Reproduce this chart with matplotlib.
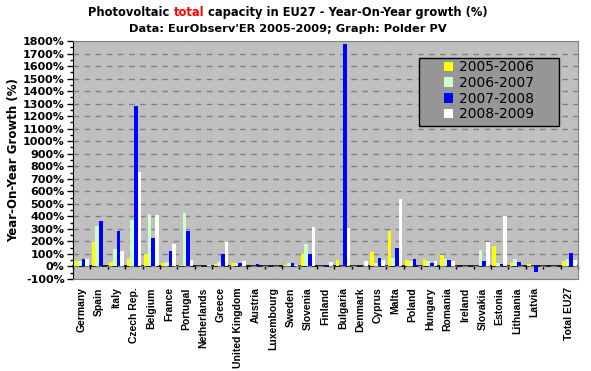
"""
Photovoltaic total capacity in EU27 - year-on-year growth per country.
"""

import matplotlib.pyplot as plt
import numpy as np
from matplotlib.patches import Rectangle
from matplotlib.ticker import MultipleLocator, FuncFormatter

countries = ["Germany", "Spain", "Italy", "Czech Rep.", "Belgium", "France",
             "Portugal", "Netherlands", "Greece", "United Kingdom", "Austria",
             "Luxembourg", "Sweden", "Slovenia", "Finland", "Bulgaria",
             "Denmark", "Cyprus", "Malta", "Poland", "Hungary", "Romania",
             "Ireland", "Slovakia", "Estonia", "Lithuania", "Latvia",
             "Total EU27"]

# growth in %
growth_0506 = [45, 195, 35, 59, 99, 27, 8, 2, 19, 27, 0, 0, 8, 96, 5, 48,
               5, 112, 280, 48, 56, 88, 0, 0, 160, 24, 16, 40]
growth_0607 = [40, 323, 139, 371, 419, 35, 427, 1, 35, 27, 5, 0, 24, 176, 5, 5,
               0, 24, 64, 40, 40, 56, 0, 128, 24, 56, 0, 56]
growth_0708 = [56, 360, 283, 1280, 224, 123, 283, 1, 99, 27, 16, 0, 24, 96, 8, 1776,
               0, 64, 144, 56, 24, 48, 0, 40, 16, 32, -48, 104]
growth_0809 = [56, 2, 123, 755, 408, 179, 51, 8, 195, 40, 5, 0, 8, 312, 32, 304,
               40, 48, 536, 2, 40, 40, 0, 192, 400, 0, 0, 48]

series = [("2005-2006", growth_0506, "#FFFF00"),
          ("2006-2007", growth_0607, "#CCFFCC"),
          ("2007-2008", growth_0708, "#0000FF"),
          ("2008-2009", growth_0809, "#FFFFFF")]

# one empty slot between Latvia and the EU27 total
x = np.arange(len(countries), dtype=float)
x[-1] += 1
n_slots = len(countries) + 1
width = 0.21
ymin, ymax = -100, 1800

fig = plt.figure(figsize=(5.91, 3.71), dpi=100)
ax = fig.add_axes([0.1235, 0.248, 0.8545, 0.6415])
ax.set_facecolor("#C0C0C0")

for i, (label, vals, color) in enumerate(series):
    ax.bar(x + (i - 1.5) * width, vals, width=width, color=color,
           label=label, zorder=3, linewidth=0)

ax.set_xlim(-0.5, n_slots - 0.5)
ax.set_ylim(ymin, ymax)

# y axis
ax.yaxis.set_major_locator(MultipleLocator(100))
ax.yaxis.set_minor_locator(MultipleLocator(50))
ax.yaxis.set_major_formatter(FuncFormatter(lambda v, p: f"{v:.0f}%"))
ax.tick_params(axis="y", which="major", length=4, width=1, labelsize=8, pad=2)
ax.tick_params(axis="y", which="minor", length=2, width=1)
for t in ax.get_yticklabels():
    t.set_fontweight("bold")
ax.set_ylabel("Year-On-Year Growth (%)", fontsize=8.5, fontweight="bold",
              labelpad=1.5)
ax.grid(axis="y", which="major", color="#808080", linestyle=(0, (4, 4)),
        linewidth=1, zorder=1)

# category labels at the bottom of the plot
ax.set_xticks(x)
ax.set_xticklabels(countries, rotation=90, fontsize=7.5, fontweight="bold",
                   family="Liberation Sans", va="top")
ax.tick_params(axis="x", length=0, pad=6)

for side in ["top", "right", "bottom"]:
    ax.spines[side].set_color("#808080")
ax.spines["left"].set_color("black")

# zero line with category separators
zero_pos = (0 - ymin) / (ymax - ymin)
zax = ax.secondary_xaxis(zero_pos)
zax.set_xticks(np.arange(n_slots + 1) - 0.5)
zax.set_xticklabels([])
zax.tick_params(axis="x", direction="out", length=2.5, width=1, color="black")
zax.spines["bottom"].set_color("black")
zax.spines["bottom"].set_linewidth(1.2)
zax.spines["bottom"].set_zorder(4)

# legend box (wider than the entries, like the original)
box = Rectangle((0.685, 0.643), 0.277, 0.286, transform=ax.transAxes,
                facecolor="#969696", edgecolor="black", linewidth=1, zorder=5)
ax.add_patch(box)
leg = ax.legend(loc="center", bbox_to_anchor=(0.8235, 0.79),
                fontsize=10, frameon=False,
                handlelength=0.7, handleheight=0.7, handletextpad=0.4,
                labelspacing=0.12, borderpad=0, borderaxespad=0)
leg.set_zorder(6)

# title with the red word
parts = [("Photovoltaic ", "black"), ("total", "red"),
         (" capacity in EU27 - Year-On-Year growth (%)", "black")]
texts = [fig.text(0, 0.967, s, color=c, fontsize=8.3, fontweight="bold",
                  va="center", ha="left") for s, c in parts]
fig.canvas.draw()
renderer = fig.canvas.get_renderer()
widths = [t.get_window_extent(renderer).width / fig.bbox.width for t in texts]
start = 0.487 - sum(widths) / 2
for t, w in zip(texts, widths):
    t.set_x(start)
    start += w
fig.text(0.487, 0.921, "Data: EurObserv'ER 2005-2009; Graph: Polder PV",
         fontsize=8.2, fontweight="bold", va="center", ha="center")

fig.savefig("out.png", dpi=100)
